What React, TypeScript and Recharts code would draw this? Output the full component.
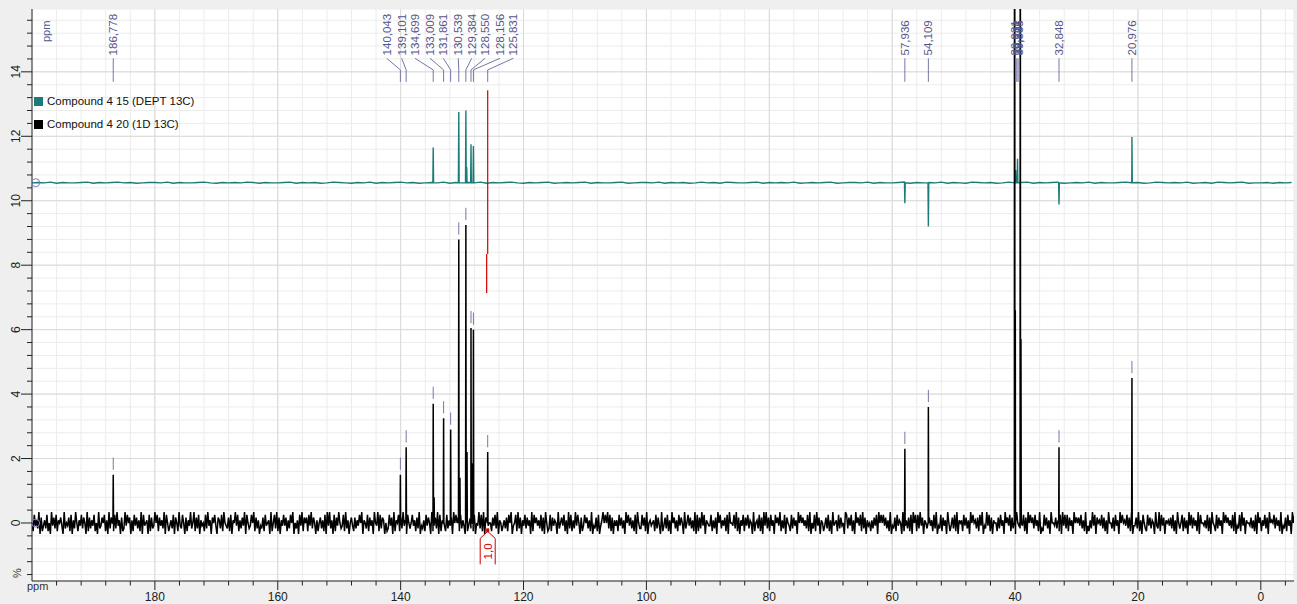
import React from 'react';
import { ComposedChart, Line, XAxis, YAxis, CartesianGrid, ReferenceLine, ReferenceDot } from 'recharts';

const W = 1297;
const H = 604;
const FONT = '"Liberation Sans", Arial, Helvetica, sans-serif';
const LABEL_COLOR = '#55558a';
const MARK_COLOR = '#7676aa';
const TEAL = '#1b7c77';

// axis ticks (ppm / %)
const X_TICKS = [196, 192, 188, 184, 180, 176, 172, 168, 164, 160, 156, 152, 148, 144, 140, 136, 132, 128, 124, 120, 116, 112, 108, 104, 100, 96, 92, 88, 84, 80, 76, 72, 68, 64, 60, 56, 52, 48, 44, 40, 36, 32, 28, 24, 20, 16, 12, 8, 4, 0, -4];
const X_MAJOR = [180, 160, 140, 120, 100, 80, 60, 40, 20, 0];
const Y_TICKS = [-1.6, -1.2, -0.8, -0.4, 0, 0.4, 0.8, 1.2, 1.6, 2, 2.4, 2.8, 3.2, 3.6, 4, 4.4, 4.8, 5.2, 5.6, 6, 6.4, 6.8, 7.2, 7.6, 8, 8.4, 8.8, 9.2, 9.6, 10, 10.4, 10.8, 11.2, 11.6, 12, 12.4, 12.8, 13.2, 13.6, 14, 14.4, 14.8, 15.2, 15.6];
const Y_MAJOR = [0, 2, 4, 6, 8, 10, 12, 14];

// baseline noise, hand-estimated, one digit per sample (1D: every 0.187 ppm, DEPT: every 1 ppm)
const NOISE_1D = (
  '5284639172 4638251947 3826574193 5472816395 2648375192 7364825193 4758261937 5283946172 3948571628 4736291845 ' +
  '6182734958 2746391852 4638175294 3851726493 5927381645 2839461758 4176382954 3728165948 2637491853 4859273614 ' +
  '3728456192 5839271648 4726385915 3618492757 2849375162 5736281949 3618274953 4829361574 2736485916 5382746195 ' +
  '4928376152 3847192658 2739461853 5846273914 3628475192 4739182654 2836471958 5728364192 4637281549 3829176455 ' +
  '2748391652 4637285914 5829371648 3746192857 4638271952 3827465193 5748261938 2639485172 4857362914 3728146958 ' +
  '5938271646 2847361958 4736281953 3847291564 5628374192 4738261957 3628475193 5847362918 2739481654 4826371958 ' +
  '3647281955 4839271648 2748365192 5638271949 3728461857 4926381754 2837461958 5746382915 3829471652 4738261945 ' +
  '6283745198 3748261957 4829371645 2637481958 5847362914 3728465192 4637281958 2839471653 5746283914 3827461952 ' +
  '4738291656 2847361958 5637284914 3948271655 2738461957 4827361954 3648271958 5738462913 2847361955 4736281948 ' +
  '3827461957 5748362914 2639481756 4837261955 3728461958 5648372914 4739261853 2847365194 3928471656 4738261953 ' +
  '5827361948 3746291855 4638271954 2837461958 5746382914 3829471655 4736281957 2648371956 5837462914 3728461958'
).replace(/ /g, '');
const NOISE_DEPT = (
  '4546354456 3545645345 5463544564 3545465354 4563545346 5435463545 6453454635 4546354564 3545634545 6354456345 ' +
  '5463545346 4536544563 5454634545 6345546354 4563545463 5436545346 4563545634 5463544563 5346545463 4536545634 453545'
).replace(/ /g, '');

const DEPT_BASE = 10.56;

// picked peaks of the 1D 13C spectrum: [ppm, height %]
const PICKED_1D: [number, number][] = [
  [186.778, 1.5], [140.043, 1.5], [139.101, 2.35], [134.699, 3.7], [133.009, 3.25], [131.861, 2.9],
  [130.539, 8.8], [129.384, 9.25], [128.55, 6.05], [128.156, 6.0], [125.831, 2.2],
  [57.936, 2.3], [54.109, 3.6], [32.848, 2.35], [20.976, 4.5],
];
// unlabelled lines of the 1D spectrum (shoulders, solvent)
const EXTRA_1D: [number, number][] = [
  [134.55, 0.8], [130.35, 1.4], [129.2, 2.2], [128.35, 1.85],
  [40.08, 40], [39.96, 6.6], [39.16, 40], [39.04, 5.7],
];
// DEPT lines: [ppm, absolute level]
const PEAKS_DEPT: [number, number][] = [
  [134.699, 11.65], [130.539, 12.75], [129.384, 12.8], [129.25, 11.05], [128.55, 11.75], [128.156, 11.7],
  [57.936, 9.92], [54.109, 9.2], [39.9, 10.95], [39.6, 11.3], [32.848, 9.88], [20.976, 11.98],
];

// peak labels: [text, label position ppm, peak ppm]
const PEAK_LABELS: [string, number, number][] = [
  ['186,778', 186.778, 186.778],
  ['140,043', 142.27, 140.043],
  ['139,101', 139.83, 139.101],
  ['134,699', 137.66, 134.699],
  ['133,009', 135.22, 133.009],
  ['131,861', 133.06, 131.861],
  ['130,539', 130.62, 130.539],
  ['129,384', 128.44, 129.384],
  ['128,550', 126.27, 128.55],
  ['128,156', 123.83, 128.156],
  ['125,831', 121.66, 125.831],
  ['57,936', 57.936, 57.936],
  ['54,109', 54.109, 54.109],
  ['39,931', 39.931, 39.931],
  ['39,722', 39.722, 39.722],
  ['39,514', 39.514, 39.514],
  ['39,305', 39.305, 39.305],
  ['32,848', 32.848, 32.848],
  ['20,976', 20.976, 20.976],
];

const LEGEND_ITEMS = [
  { name: 'Compound 4 15 (DEPT 13C)', color: TEAL },
  { name: 'Compound 4 20 (1D 13C)', color: '#000000' },
];

const INTEGRAL = { ppm: 125.831, from: 7.14, to: 13.43, label: '1,0', foot: -0.26 };

function buildSpectrum(noise: string, step: number, amp: number, mid: number, base: number, peaks: [number, number][], hw: number) {
  const pts: { x: number; y: number }[] = [];
  for (let i = 0; i < noise.length; i++) {
    pts.push({ x: 200 - i * step, y: base + (Number(noise[i]) - mid) * amp });
  }
  for (const [p, h] of peaks) {
    pts.push({ x: p + hw, y: base }, { x: p, y: h }, { x: p - hw, y: base });
  }
  pts.sort((a, b) => b.x - a.x);
  return pts;
}

const DATA_1D = buildSpectrum(NOISE_1D, 0.187, 0.085, 5, 0, [...PICKED_1D, ...EXTRA_1D], 0.05);
const DATA_DEPT = buildSpectrum(NOISE_DEPT, 1, 0.012, 4.5, DEPT_BASE, PEAKS_DEPT, 0.06);

const XTick = (props: any) => {
  const { x, y, payload } = props;
  const v = payload.value;
  const major = X_MAJOR.includes(v);
  return (
    <g>
      <line x1={x} x2={x} y1={y} y2={y + (major ? 9 : 4.5)} stroke="#222" strokeWidth={1} />
      {major && (
        <text x={x} y={y + 20} textAnchor="middle" fontSize={12} fill="#222" fontFamily={FONT}>{v}</text>
      )}
    </g>
  );
};

const YTick = (props: any) => {
  const { x, y, payload } = props;
  const v = payload.value;
  const major = Y_MAJOR.some((m) => Math.abs(m - v) < 1e-6);
  const tx = x - 16;
  return (
    <g>
      <line x1={x - (major ? 11 : 5)} x2={x} y1={y} y2={y} stroke="#222" strokeWidth={1} />
      {major && (
        <text x={tx} y={y} transform={`rotate(-90 ${tx} ${y})`} textAnchor="middle" dominantBaseline="central" fontSize={12} fill="#222" fontFamily={FONT}>{v}</text>
      )}
    </g>
  );
};

const labelShape = (text: string) => (props: any) => {
  const { cx, cy } = props;
  return (
    <text x={cx} y={cy} transform={`rotate(-90 ${cx} ${cy})`} textAnchor="start" dominantBaseline="central" fontSize={11.5} fill={LABEL_COLOR} fontFamily={FONT}>{text}</text>
  );
};

const integralShape = (props: any) => {
  const { cx, cy } = props;
  return (
    <g>
      <rect x={cx - 1.5} y={cy - 3} width={3} height={4} fill="#d00000" />
      <path d={`M${cx},${cy} L${cx + 7.5},${cy + 7} L${cx + 7.5},${cy + 33} M${cx},${cy} L${cx - 7.5},${cy + 7} L${cx - 7.5},${cy + 33}`} stroke="#d00000" strokeWidth={1} fill="none" />
      <text x={cx} y={cy + 20} transform={`rotate(-90 ${cx} ${cy + 20})`} textAnchor="middle" dominantBaseline="central" fontSize={11.5} fill="#d00000" fontFamily={FONT}>{INTEGRAL.label}</text>
    </g>
  );
};

export default function App() {
  return (
    <div style={{ position: 'absolute', left: 0, top: 0, width: W, height: H, background: '#efefef', fontFamily: FONT }}>
      <ComposedChart width={W} height={H} margin={{ top: 9, right: 3, bottom: 0, left: 8 }}>
        <CartesianGrid fill="#ffffff" stroke="#ececec" strokeWidth={1} />
        {X_MAJOR.map((v) => (
          <ReferenceLine key={'gx' + v} x={v} stroke="#d9d9d9" strokeWidth={1} />
        ))}
        {Y_MAJOR.map((v) => (
          <ReferenceLine key={'gy' + v} y={v} stroke="#d9d9d9" strokeWidth={1} />
        ))}
        <XAxis
          type="number"
          dataKey="x"
          domain={[-5.4, 200]}
          reversed
          allowDataOverflow
          ticks={X_TICKS}
          interval={0}
          tick={<XTick />}
          tickLine={false}
          tickSize={0}
          tickMargin={0}
          height={23}
          axisLine={{ stroke: '#222' }}
        />
        <YAxis
          type="number"
          dataKey="y"
          domain={[-1.8, 15.95]}
          allowDataOverflow
          ticks={Y_TICKS}
          interval={0}
          tick={<YTick />}
          tickLine={false}
          tickSize={0}
          tickMargin={0}
          width={24}
          axisLine={{ stroke: '#222' }}
        />
        <Line data={DATA_DEPT} dataKey="y" type="linear" stroke={TEAL} strokeWidth={1.4} dot={false} isAnimationActive={false} />
        <Line data={DATA_1D} dataKey="y" type="linear" stroke="#000000" strokeWidth={1.5} dot={false} isAnimationActive={false} />

        <ReferenceLine segment={[{ x: 126.0, y: INTEGRAL.from }, { x: 126.0, y: 8.35 }]} stroke="#d00000" strokeWidth={1.2} />
        <ReferenceLine segment={[{ x: INTEGRAL.ppm, y: 8.35 }, { x: INTEGRAL.ppm, y: INTEGRAL.to }]} stroke="#d00000" strokeWidth={1.2} />
        <ReferenceDot x={INTEGRAL.ppm} y={INTEGRAL.foot} r={4} shape={integralShape} />

        {PICKED_1D.map(([p, h]) => (
          <ReferenceLine key={'pm' + p} segment={[{ x: p, y: h + 0.15 }, { x: p, y: h + 0.53 }]} stroke={MARK_COLOR} strokeWidth={1} />
        ))}

        {PEAK_LABELS.map(([t, lp, pp]) => (
          <ReferenceLine key={'la' + t} segment={[{ x: lp, y: 14.42 }, { x: pp, y: 14.06 }]} stroke={MARK_COLOR} strokeWidth={1} />
        ))}
        {PEAK_LABELS.map(([t, lp, pp]) => (
          <ReferenceLine key={'lb' + t} segment={[{ x: pp, y: 14.06 }, { x: pp, y: 13.69 }]} stroke={MARK_COLOR} strokeWidth={1} />
        ))}
        {PEAK_LABELS.map(([t, lp]) => (
          <ReferenceDot key={'lt' + t} x={lp} y={14.51} r={1} shape={labelShape(t)} />
        ))}

        <ReferenceDot x={199.4} y={0} r={4} fill="none" stroke="#7a7ab8" strokeWidth={1} />
        <ReferenceDot x={199.4} y={DEPT_BASE} r={4} fill="none" stroke="#7a7ab8" strokeWidth={1} />
      </ComposedChart>

      <svg width={W} height={H} style={{ position: 'absolute', left: 0, top: 0, pointerEvents: 'none' }}>
        <text x={46} y={42} transform="rotate(-90 46 42)" textAnchor="start" dominantBaseline="central" fontSize={11} fill={LABEL_COLOR} fontFamily={FONT}>ppm</text>
        <text x={17} y={573} transform="rotate(-90 17 573)" textAnchor="middle" dominantBaseline="central" fontSize={11} fill="#333" fontFamily={FONT}>%</text>
        <text x={27} y={590} textAnchor="start" fontSize={11} fill="#333" fontFamily={FONT}>ppm</text>
      </svg>

      <div style={{ position: 'absolute', left: 34, top: 90, fontFamily: FONT, fontSize: 11.5, color: '#111', lineHeight: '23px' }}>
        {LEGEND_ITEMS.map((it) => (
          <div key={it.name} style={{ display: 'flex', alignItems: 'center', height: 23 }}>
            <span style={{ display: 'inline-block', width: 9, height: 9, background: it.color, marginRight: 4 }} />
            <span>{it.name}</span>
          </div>
        ))}
      </div>
    </div>
  );
}
